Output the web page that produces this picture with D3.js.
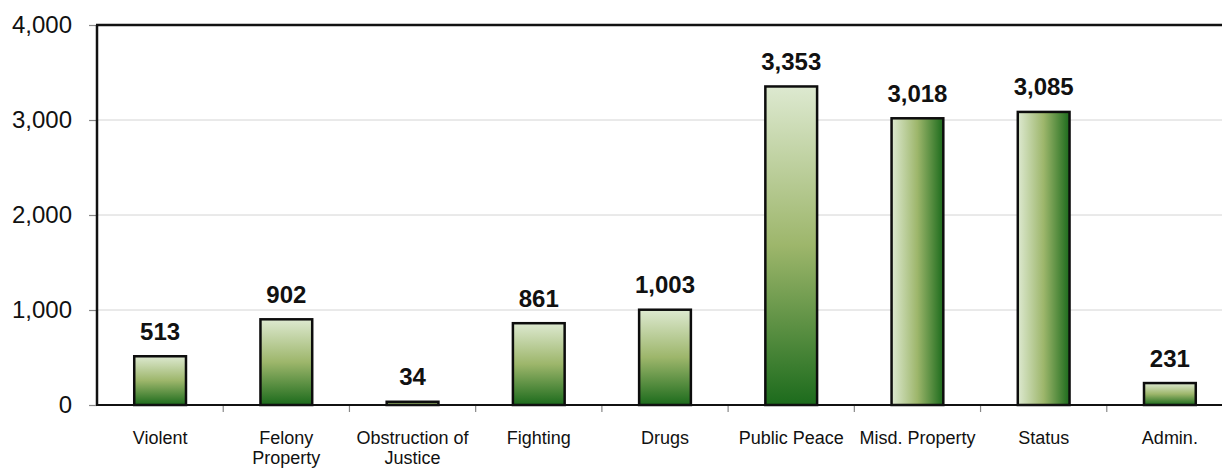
<!DOCTYPE html>
<html>
<head>
<meta charset="utf-8">
<script src="https://cdn.jsdelivr.net/npm/d3@7"></script>
<style>
  html, body { margin: 0; padding: 0; background: #fff; overflow: hidden; }
  svg { display: block; font-family: "Liberation Sans", Arial, sans-serif; }
</style>
</head>
<body>
<svg id="chart" width="1222" height="468"></svg>
<script>
// Offense categories (multi-line labels split on "\n")
const categories = [
  "Violent", "Felony\nProperty", "Obstruction of\nJustice", "Fighting", "Drugs",
  "Public Peace", "Misd. Property", "Status", "Admin."
];
// Number of referrals per category
const values = [513, 902, 34, 861, 1003, 3353, 3018, 3085, 231];
// Y-axis ticks
const yTicks = [0, 1000, 2000, 3000, 4000];
// Categories whose bars are shaded left-to-right instead of top-to-bottom
const sideShaded = ["Misd. Property", "Status"];

const svg = d3.select("#chart");
const W = 1222, H = 468;
const plot = { left: 97, top: 25, right: 1233, bottom: 405 };

const x = d3.scaleBand()
  .domain(categories)
  .range([plot.left, plot.right])
  .paddingInner(0.59)
  .paddingOuter(0.295);

const xBand = d3.scaleBand().domain(categories).range([plot.left, plot.right]);

const y = d3.scaleLinear().domain([0, 4000]).range([plot.bottom, plot.top]);
const fmt = d3.format(",");

// Gradients
const defs = svg.append("defs");
const stops = [
  { o: "0%", c: "#dde9d0" },
  { o: "50%", c: "#9db66b" },
  { o: "100%", c: "#1c6b1c" }
];
function addGradient(id, horizontal) {
  const g = defs.append("linearGradient")
    .attr("id", id)
    .attr("x1", 0).attr("y1", 0)
    .attr("x2", horizontal ? 1 : 0).attr("y2", horizontal ? 0 : 1);
  stops.forEach(s => g.append("stop").attr("offset", s.o).attr("stop-color", s.c));
}
addGradient("shadeV", false);
addGradient("shadeH", true);

// Gridlines
svg.append("g")
  .selectAll("line")
  .data(yTicks.filter(t => t > 0 && t < 4000))
  .join("line")
  .attr("x1", plot.left).attr("x2", W)
  .attr("y1", d => y(d)).attr("y2", d => y(d))
  .attr("stroke", "#d4d4d4").attr("stroke-width", 1);

// Y axis
const yAxis = svg.append("g")
  .attr("transform", `translate(${plot.left},0)`)
  .call(d3.axisLeft(y).tickValues(yTicks).tickFormat(fmt).tickSize(8).tickPadding(17));
yAxis.select(".domain").remove();
yAxis.selectAll(".tick line").attr("stroke", "#888").attr("stroke-width", 1.2);
yAxis.selectAll(".tick text")
  .attr("font-size", 24).attr("fill", "#111")
  .attr("font-family", "Liberation Sans, Arial, sans-serif");

// Category tick marks at band boundaries
svg.append("g")
  .selectAll("line")
  .data(categories.slice(1))
  .join("line")
  .attr("x1", d => xBand(d)).attr("x2", d => xBand(d))
  .attr("y1", plot.bottom).attr("y2", plot.bottom + 7)
  .attr("stroke", "#888").attr("stroke-width", 1.2);

// Bars
svg.append("g")
  .selectAll("rect")
  .data(categories)
  .join("rect")
  .attr("x", d => x(d))
  .attr("width", x.bandwidth())
  .attr("y", (d, i) => y(values[i]))
  .attr("height", (d, i) => y(0) - y(values[i]))
  .attr("fill", d => sideShaded.includes(d) ? "url(#shadeH)" : "url(#shadeV)")
  .attr("stroke", "#0d0d0d")
  .attr("stroke-width", 2.5);

// Value labels
svg.append("g")
  .selectAll("text")
  .data(categories)
  .join("text")
  .attr("x", d => x(d) + x.bandwidth() / 2)
  .attr("y", (d, i) => y(values[i]) - 16.5)
  .attr("text-anchor", "middle")
  .attr("font-size", 24)
  .attr("font-weight", "bold")
  .attr("fill", "#111")
  .text((d, i) => fmt(values[i]));

// Category labels
const catLabels = svg.append("g")
  .selectAll("text")
  .data(categories)
  .join("text")
  .attr("x", d => xBand(d) + xBand.bandwidth() / 2)
  .attr("y", 444)
  .attr("text-anchor", "middle")
  .attr("font-size", 18)
  .attr("fill", "#111");
catLabels.each(function(d) {
  const t = d3.select(this);
  d.split("\n").forEach((line, k) => {
    t.append("tspan")
      .attr("x", xBand(d) + xBand.bandwidth() / 2)
      .attr("dy", k === 0 ? 0 : 19.5)
      .text(line);
  });
});

// Plot frame: left axis, top border, baseline
svg.append("line")
  .attr("x1", plot.left).attr("x2", plot.left)
  .attr("y1", plot.top).attr("y2", plot.bottom)
  .attr("stroke", "#111").attr("stroke-width", 2.5);
svg.append("line")
  .attr("x1", plot.left - 1).attr("x2", W)
  .attr("y1", plot.top).attr("y2", plot.top)
  .attr("stroke", "#111").attr("stroke-width", 2.5);
svg.append("line")
  .attr("x1", plot.left - 1).attr("x2", W)
  .attr("y1", plot.bottom).attr("y2", plot.bottom)
  .attr("stroke", "#111").attr("stroke-width", 2);
</script>
</body>
</html>
